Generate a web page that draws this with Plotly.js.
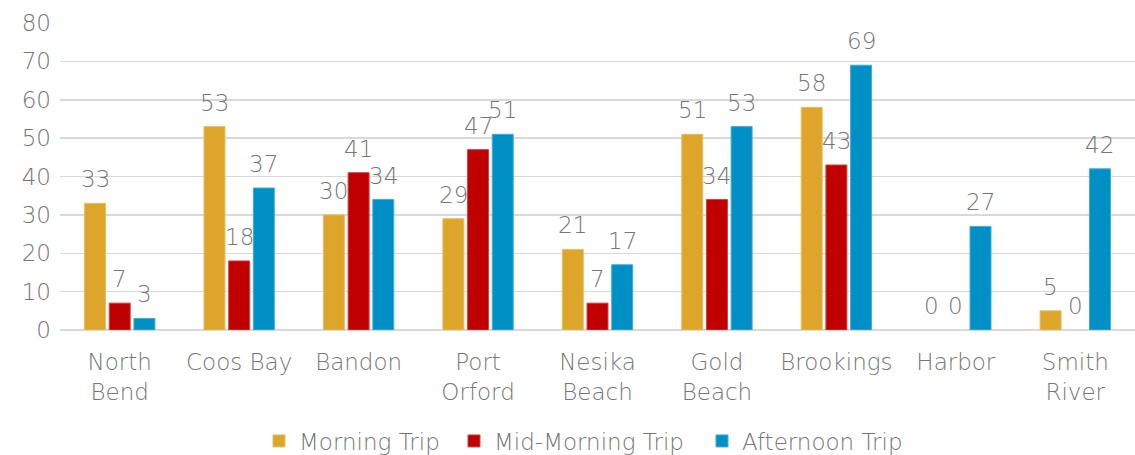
<!DOCTYPE html>
<html>
<head>
<meta charset="utf-8">
<script src="https://cdn.plot.ly/plotly-3.0.1.min.js"></script>
<style>html,body{margin:0;padding:0;background:#fff;}#chart{width:1135px;height:455px;}</style>
</head>
<body>
<div id="chart"></div>
<script>
const categories = ["North<br>Bend","Coos Bay","Bandon","Port<br>Orford","Nesika<br>Beach","Gold<br>Beach","Brookings","Harbor","Smith<br>River"];
const seriesNames = ["Morning Trip","Mid-Morning Trip","Afternoon Trip"];
const morning = [33,53,30,29,21,51,58,0,5];
const midMorning = [7,18,41,47,7,34,43,0,0];
const afternoon = [3,37,34,51,17,53,69,27,42];
const yTicks = [0,10,20,30,40,50,60,70,80];

const colors = ["#DDA52A","#C00000","#0090C5"];
const lineColors = ["#E8BE60","#D64040","#40ACD8"];
const FONT = "DejaVu Sans, sans-serif";
const FW = 300;
const FS = 23;
const GRAY = "#767676";

const W = 1135, H = 455, ML = 60, MR = 0;
const BARGAP = 0.38;
const catPx = (W - ML - MR) / categories.length;
const slotPx = (1 - BARGAP) * catPx / 3;

const allSeries = [morning, midMorning, afternoon];
const legendIds = ["legend", "legend2", "legend3"];
const legendLeftPx = [259, 454, 702];

const data = allSeries.map((vals, i) => ({
  type: "bar",
  name: seriesNames[i],
  legend: legendIds[i],
  x: categories,
  y: vals,
  marker: {color: colors[i], line: {color: lineColors[i], width: vals.map(v => v ? 1 : 0)}},
  hoverinfo: "none"
}));

const annotations = [];
allSeries.forEach((vals, i) => {
  vals.forEach((v, j) => {
    annotations.push({
      x: categories[j], y: v, xref: "x", yref: "y",
      text: String(v), showarrow: false,
      xanchor: "center", yanchor: "bottom",
      xshift: (i - 1) * slotPx, yshift: 9,
      font: {family: FONT, size: FS, color: GRAY, weight: FW}
    });
  });
});

const layout = {
  width: W, height: H,
  margin: {l: ML, r: MR, t: 23, b: 125},
  paper_bgcolor: "#fff", plot_bgcolor: "#fff",
  barmode: "group",
  bargap: BARGAP,
  bargroupgap: 0.15,
  font: {family: FONT, size: FS, color: GRAY, weight: FW},
  annotations: annotations,
  xaxis: {
    type: "category",
    tickfont: {family: FONT, size: FS, color: GRAY, weight: FW},
    showgrid: false, showline: false, ticks: "", zeroline: false,
    ticklabelstandoff: 16,
    automargin: false
  },
  yaxis: {
    range: [0, 80],
    tickvals: yTicks,
    ticktext: yTicks.map(String),
    tickfont: {family: FONT, size: FS, color: GRAY, weight: FW},
    showgrid: true, gridcolor: "#d9d9d9", gridwidth: 1.5,
    zeroline: true, zerolinecolor: "#d9d9d9", zerolinewidth: 2,
    showline: false, ticks: "", ticklen: 0,
    ticklabelstandoff: 8,
    automargin: false
  },
  showlegend: true
};

legendIds.forEach((id, i) => {
  layout[id] = {
    orientation: "h",
    xref: "container", yref: "container",
    x: legendLeftPx[i] / W, xanchor: "left",
    y: 1 - 441 / H, yanchor: "middle",
    font: {family: FONT, size: FS, color: GRAY, weight: FW},
    bgcolor: "rgba(0,0,0,0)"
  };
});

Plotly.newPlot("chart", data, layout, {displayModeBar: false, staticPlot: true});
</script>
</body>
</html>
